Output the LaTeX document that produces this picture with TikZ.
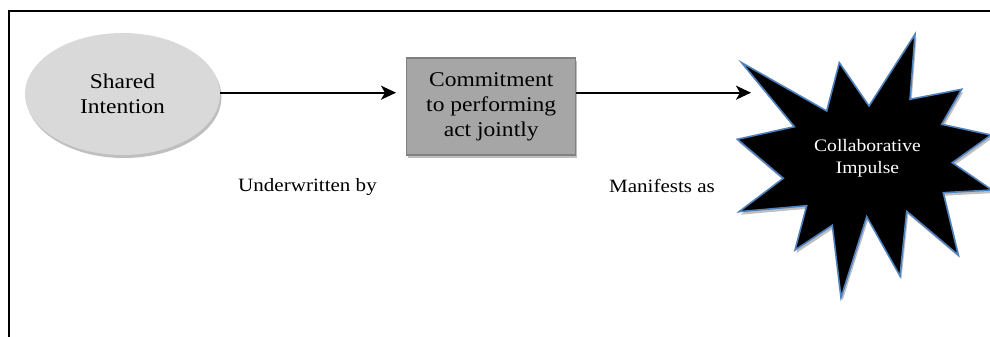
\documentclass[tikz,border=0pt]{standalone}
\usepackage{fontspec}
\setmainfont[FakeStretch=1.12]{Liberation Serif}
\usetikzlibrary{shapes.geometric,shadows,arrows.meta}
\definecolor{ellfill}{HTML}{D9D9D9}
\definecolor{boxfill}{HTML}{A6A6A6}
\definecolor{boxline}{HTML}{808080}
\definecolor{starline}{HTML}{4F81BD}
\begin{document}
\begin{tikzpicture}[x=1pt,y=-1pt,
  softshadow/.style={drop shadow={shadow xshift=1.5pt,shadow yshift=-3pt,opacity=0.25,fill=black}},
  conn/.style={line width=2pt,-{Stealth[length=15pt,width=14pt,inset=4pt]}},
  ellnode/.style={ellipse,fill=ellfill,minimum width=195pt,minimum height=122pt,inner sep=0pt,align=center,
     font=\fontsize{21}{25}\selectfont,softshadow},
  boxnode/.style={rectangle,fill=boxfill,draw=boxline,line width=1.5pt,minimum width=169pt,minimum height=97pt,
     inner sep=0pt,align=center,font=\fontsize{21}{25.3}\selectfont,softshadow},
  lbl/.style={font=\fontsize{18.8}{22}\selectfont,inner sep=0pt},
  starshape/.style={fill=black,draw=starline,line width=1.6pt,line join=miter,softshadow},
  frame/.style={line width=2pt}
]
\useasboundingbox (0,0) rectangle (990,337);
\clip (0,0) rectangle (990,337);
% frame
\draw[frame] (9,340) -- (9,11) -- (995,11);
% nodes
\node[ellnode] (shared) at (122.5,94) {Shared\\Intention};
\node[boxnode] (commit) at (491.2,106.7) {Commitment\\to performing\\act jointly};
% starburst
\draw[starshape] (741.7,62.7) -- (826.7,111) -- (839.3,62.7) -- (869,106) -- (915,34.3) -- (910,99.3)
  -- (961.7,89.3) -- (941.7,124.3) -- (991,135) -- (952.3,162.7) -- (992,190) -- (943.3,192.7)
  -- (958.3,255) -- (906.7,211.3) -- (900,276) -- (866.7,216.7) -- (841,297.7) -- (832.3,225.3)
  -- (795,250) -- (806.7,205.7) -- (739,211.7) -- (783.3,178.3) -- (737.3,139.3) -- (794.3,126.7) -- cycle;
\node[text=white,align=center,font=\fontsize{17.5}{22}\selectfont] (impulse) at (867.5,158.5) {Collaborative\\Impulse};
\coordinate (starin) at (751,92.7);
% connectors
\draw[conn] (shared.east |- 0,92.7) -- (396,92.7);
\draw[conn] (commit.east |- 0,92.7) -- (starin);
% labels
\node[lbl] (under) at (307.5,187) {Underwritten by};
\node[lbl] (manif) at (662,186) {Manifests as};
\end{tikzpicture}
\end{document}
